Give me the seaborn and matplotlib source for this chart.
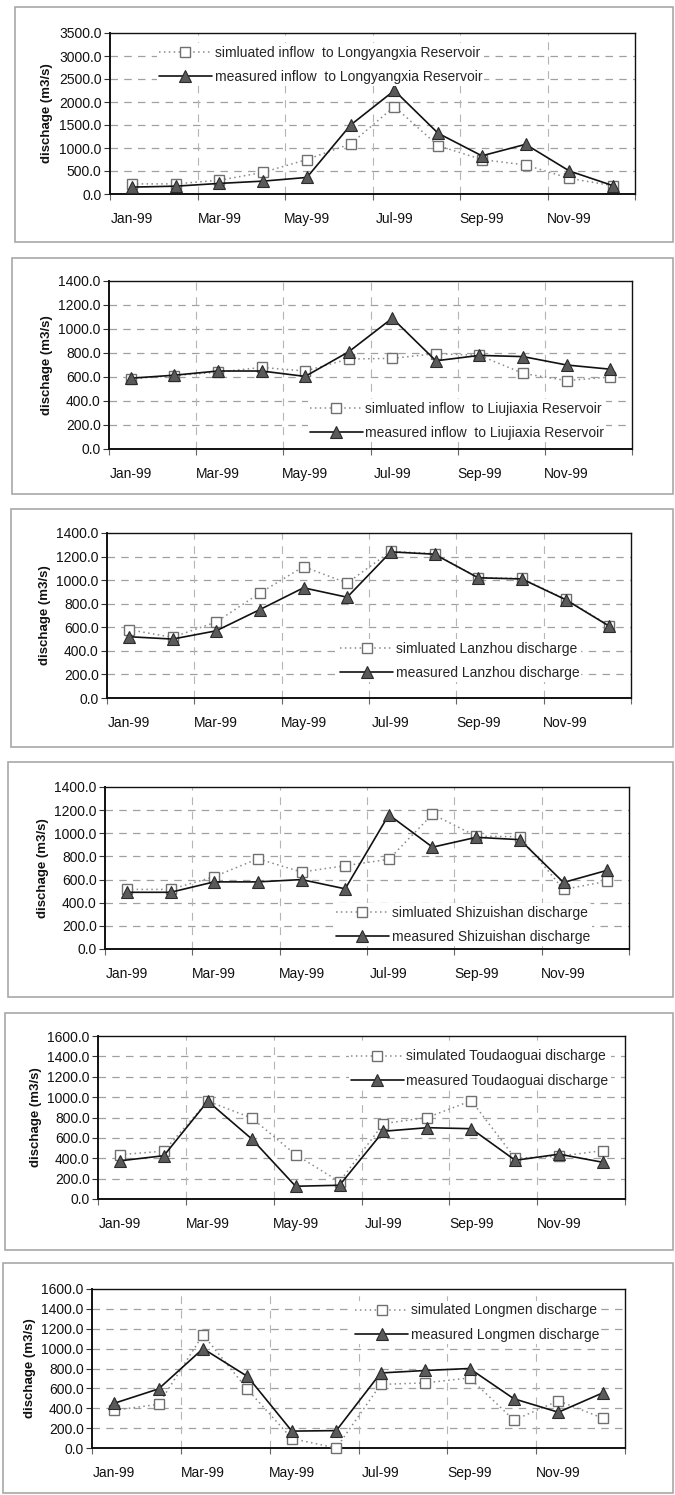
import numpy as np
import pandas as pd
import matplotlib
matplotlib.use("Agg")
import matplotlib.pyplot as plt
from matplotlib.patches import Rectangle
from matplotlib.ticker import FixedLocator, FormatStrFormatter
import seaborn as sns

months = ["Jan-99", "Feb-99", "Mar-99", "Apr-99", "May-99", "Jun-99",
          "Jul-99", "Aug-99", "Sep-99", "Oct-99", "Nov-99", "Dec-99"]

# Longyangxia inflow
sim_longyangxia = [220, 220, 300, 470, 750, 1090, 1900, 1050, 750, 630, 340, 180]
obs_longyangxia = [150, 170, 230, 280, 360, 1500, 2250, 1320, 830, 1080, 500, 180]
# Liujiaxia inflow
sim_liujiaxia = [585, 612, 640, 680, 650, 750, 755, 795, 780, 630, 570, 600]
obs_liujiaxia = [590, 615, 650, 650, 605, 810, 1090, 735, 780, 770, 700, 665]
# Lanzhou
sim_lanzhou = [580, 515, 645, 890, 1115, 975, 1245, 1225, 1020, 1015, 840, 615]
obs_lanzhou = [520, 500, 570, 750, 935, 855, 1240, 1220, 1020, 1010, 835, 610]
# Shizuishan
sim_shizuishan = [515, 515, 625, 780, 665, 720, 775, 1165, 975, 970, 515, 585]
obs_shizuishan = [490, 490, 580, 580, 600, 520, 1160, 880, 965, 945, 575, 680]
# Toudaoguai
sim_toudaoguai = [435, 470, 960, 795, 435, 170, 740, 800, 965, 400, 420, 475]
obs_toudaoguai = [375, 425, 960, 590, 125, 135, 665, 700, 690, 380, 440, 360]
# Longmen
sim_longmen = [380, 440, 1140, 590, 95, 0, 640, 655, 705, 280, 475, 300]
obs_longmen = [450, 595, 1000, 720, 170, 175, 755, 780, 800, 495, 360, 555]

sim_labels = [
    "simluated inflow  to Longyangxia Reservoir",
    "simluated inflow  to Liujiaxia Reservoir",
    "simluated Lanzhou discharge",
    "simluated Shizuishan discharge",
    "simulated Toudaoguai discharge",
    "simulated Longmen discharge",
]
obs_labels = [
    "measured inflow  to Longyangxia Reservoir",
    "measured inflow  to Liujiaxia Reservoir",
    "measured Lanzhou discharge",
    "measured Shizuishan discharge",
    "measured Toudaoguai discharge",
    "measured Longmen discharge",
]
y_max = [3500, 1400, 1400, 1400, 1600, 1600]
y_step = [500, 200, 200, 200, 200, 200]
y_label = "dischage (m3/s)"

sim_series = [sim_longyangxia, sim_liujiaxia, sim_lanzhou,
              sim_shizuishan, sim_toudaoguai, sim_longmen]
obs_series = [obs_longyangxia, obs_liujiaxia, obs_lanzhou,
              obs_shizuishan, obs_toudaoguai, obs_longmen]

sns.set_theme(style="white")
plt.rcParams["font.family"] = ["Liberation Sans", "DejaVu Sans"]

W, H = 675, 1495
fig = plt.figure(figsize=(W / 100, H / 100), dpi=100)
fig.patch.set_facecolor("white")

# axes boxes in pixels: left, right, top, bottom
boxes = [
    (110, 635, 33, 194),
    (109, 632, 281, 449),
    (107, 631, 533, 698),
    (105, 629, 787, 949),
    (98, 625, 1036, 1199),
    (92, 625, 1289, 1448),
]
# chart-area frames in pixels: left, top, bottom
frames = [
    (15, 7, 242),
    (12, 258, 494),
    (11, 509, 747),
    (8, 762, 997),
    (5, 1013, 1250),
    (3, 1263, 1493),
]
# legend anchors (axes fraction, upper-left corner)
legend_anchor = [
    (0.0895, 0.935),
    (0.380, 0.295),
    (0.441, 0.355),
    (0.437, 0.281),
    (0.476, 0.930),
    (0.490, 0.922),
]

idx = np.arange(len(months))

for i in range(6):
    fl, ft, fb = frames[i]
    fig.add_artist(Rectangle((fl / W, 1 - fb / H), (673 - fl) / W, (fb - ft) / H,
                             transform=fig.transFigure, fill=False,
                             edgecolor="#a8a8a8", linewidth=1.2))

    l, r, t, b = boxes[i]
    ax = fig.add_axes([l / W, 1 - b / H, (r - l) / W, (b - t) / H])

    df = pd.DataFrame({"month": idx, "sim": sim_series[i], "obs": obs_series[i]})

    sns.lineplot(data=df, x="month", y="sim", ax=ax, color="#8a8a8a",
                 linestyle=(0, (1, 2.2)), linewidth=1.1, marker="s",
                 markersize=6.5, markerfacecolor="white",
                 markeredgecolor="#707070", markeredgewidth=1.0,
                 label=sim_labels[i], zorder=3, clip_on=False)
    sns.lineplot(data=df, x="month", y="obs", ax=ax, color="#111111",
                 linewidth=1.2, marker="^", markersize=8,
                 markerfacecolor="#5a5a5a", markeredgecolor="#2a2a2a",
                 markeredgewidth=0.8, label=obs_labels[i], zorder=4,
                 clip_on=False)

    ax.set_xlim(-0.5, 11.5)
    ax.set_ylim(0, y_max[i])

    ax.xaxis.set_major_locator(FixedLocator(idx[::2]))
    ax.set_xticklabels(months[::2])
    ax.xaxis.set_minor_locator(FixedLocator(np.arange(-0.5, 12, 2)))
    ax.yaxis.set_major_locator(FixedLocator(np.arange(0, y_max[i] + 1, y_step[i])))
    ax.yaxis.set_major_formatter(FormatStrFormatter("%.1f"))

    ax.tick_params(axis="x", which="major", length=0, pad=13, labelsize=10,
                   labelcolor="#111111")
    ax.tick_params(axis="x", which="minor", length=4, width=0.8,
                   direction="out", color="#666666", bottom=True)
    ax.tick_params(axis="y", which="major", length=4, width=0.8,
                   direction="out", color="#333333", left=True, pad=2,
                   labelsize=10, labelcolor="#111111")

    ax.grid(False)
    for y in np.arange(y_step[i], y_max[i], y_step[i]):
        ax.axhline(y, color="#a0a0a0", linewidth=0.9,
                   linestyle=(0, (6, 5)), zorder=1)
    for x in np.arange(1.5, 11, 2):
        ax.axvline(x, color="#b5b5b5", linewidth=0.8,
                   linestyle=(0, (7, 6)), zorder=1)

    for side in ["top", "right", "left", "bottom"]:
        ax.spines[side].set_visible(True)
        ax.spines[side].set_color("#111111")
        ax.spines[side].set_linewidth(1.0)
    ax.spines["left"].set_linewidth(1.4)
    ax.spines["bottom"].set_linewidth(1.4)

    ax.set_xlabel("")
    ax.set_ylabel(y_label, fontsize=9.5, fontweight="bold", labelpad=4,
                  color="#111111")

    leg = ax.legend(loc="upper left", bbox_to_anchor=legend_anchor[i],
                    frameon=True, fontsize=10, handlelength=3.8,
                    handletextpad=0.2, labelspacing=0.75, borderpad=0.15,
                    borderaxespad=0.0)
    leg.get_frame().set_facecolor("white")
    leg.get_frame().set_edgecolor("none")
    leg.get_frame().set_alpha(1.0)
    leg.set_zorder(5)

fig.savefig("out.png", dpi=100)
